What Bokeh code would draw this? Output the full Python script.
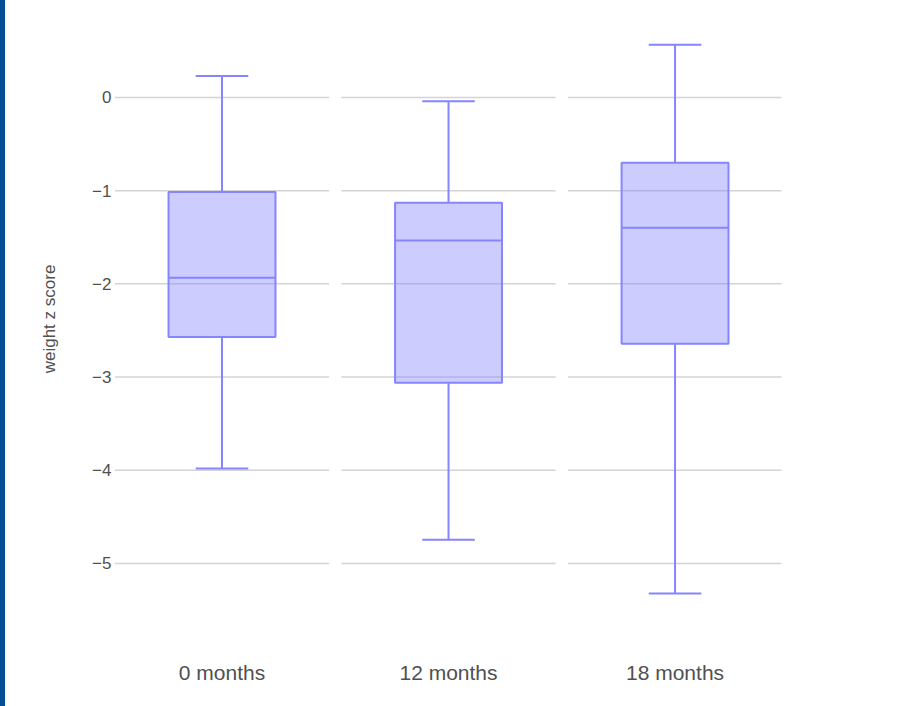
from bokeh.plotting import figure
from bokeh.models import Range1d, FixedTicker, ColumnDataSource, Spacer
from bokeh.layouts import row
from bokeh.embed import file_html
from bokeh.resources import INLINE

# ---- data ----
categories = ["0 months", "12 months", "18 months"]
upper_whisker = [0.23, -0.04, 0.565]
q3 = [-1.015, -1.13, -0.70]
median = [-1.935, -1.534, -1.398]
q1 = [-2.57, -3.062, -2.643]
lower_whisker = [-3.98, -4.745, -5.322]
y_ticks = [0, -1, -2, -3, -4, -5]
y_tick_labels = ["0", "\u22121", "\u22122", "\u22123", "\u22124", "\u22125"]
y_title = "weight z score"

# ---- styling ----
FONT = "Liberation Sans"
LINE = "#8585ff"
FILL = "#8080ff"
GRID = "#d4d4d4"
TEXT = "#505050"
STRIP = "#054e94"
box_w = 0.472
cap_w = 0.232
grid_inset = 0.027

centers = [i + 0.5 for i in range(len(categories))]

p = figure(width=889, height=706, output_backend="svg", toolbar_location=None,
           x_range=Range1d(0.0254, 2.970), y_range=Range1d(-5.612, 0.858),
           min_border_left=109, min_border_right=113, min_border_top=17,
           min_border_bottom=86)
p.outline_line_color = None
p.background_fill_color = "white"
p.border_fill_color = "white"
p.xgrid.visible = False
p.ygrid.visible = False

# per-category grid segments (facet style)
gx0, gx1, gy = [], [], []
for i in range(len(categories)):
    for t in y_ticks:
        gx0.append(i + grid_inset)
        gx1.append(i + 1 - grid_inset)
        gy.append(t)
p.segment(x0=gx0, y0=gy, x1=gx1, y1=gy, line_color=GRID, line_width=1.5)

src = ColumnDataSource(dict(
    x=centers,
    left=[c - box_w / 2 for c in centers],
    right=[c + box_w / 2 for c in centers],
    cl=[c - cap_w / 2 for c in centers],
    cr=[c + cap_w / 2 for c in centers],
    uw=upper_whisker, q3=q3, med=median, q1=q1, lw=lower_whisker,
))

# whiskers
p.segment(x0="x", y0="q3", x1="x", y1="uw", source=src, line_color=LINE, line_width=2)
p.segment(x0="x", y0="q1", x1="x", y1="lw", source=src, line_color=LINE, line_width=2)
p.segment(x0="cl", y0="uw", x1="cr", y1="uw", source=src, line_color=LINE, line_width=2)
p.segment(x0="cl", y0="lw", x1="cr", y1="lw", source=src, line_color=LINE, line_width=2)
# boxes
p.quad(left="left", right="right", top="q3", bottom="q1", source=src,
       fill_color=FILL, fill_alpha=0.4, line_color=LINE, line_width=2)
# medians
p.segment(x0="left", y0="med", x1="right", y1="med", source=src, line_color=LINE, line_width=2)

# axes
xa = p.xaxis[0]
xa.ticker = FixedTicker(ticks=centers)
xa.major_label_overrides = {c: lab for c, lab in zip(centers, categories)}
xa.axis_line_color = None
xa.major_tick_line_color = None
xa.minor_tick_line_color = None
xa.major_label_text_font = FONT
xa.major_label_text_font_size = "21px"
xa.major_label_text_color = TEXT
xa.major_label_standoff = 34

ya = p.yaxis[0]
ya.ticker = FixedTicker(ticks=y_ticks)
ya.major_label_overrides = {t: lab for t, lab in zip(y_ticks, y_tick_labels)}
ya.axis_line_color = None
ya.major_tick_line_color = None
ya.minor_tick_line_color = None
ya.major_label_text_font = FONT
ya.major_label_text_font_size = "17px"
ya.major_label_text_color = TEXT
ya.major_label_standoff = -3
ya.axis_label = y_title
ya.axis_label_text_font = FONT
ya.axis_label_text_font_size = "17px"
ya.axis_label_text_font_style = "normal"
ya.axis_label_text_color = TEXT
ya.axis_label_standoff = 30

strip = Spacer(width=5, height=706, styles={"background-color": STRIP})
layout = row(strip, p, spacing=0)

open("out.html", "w").write(file_html(layout, INLINE))
